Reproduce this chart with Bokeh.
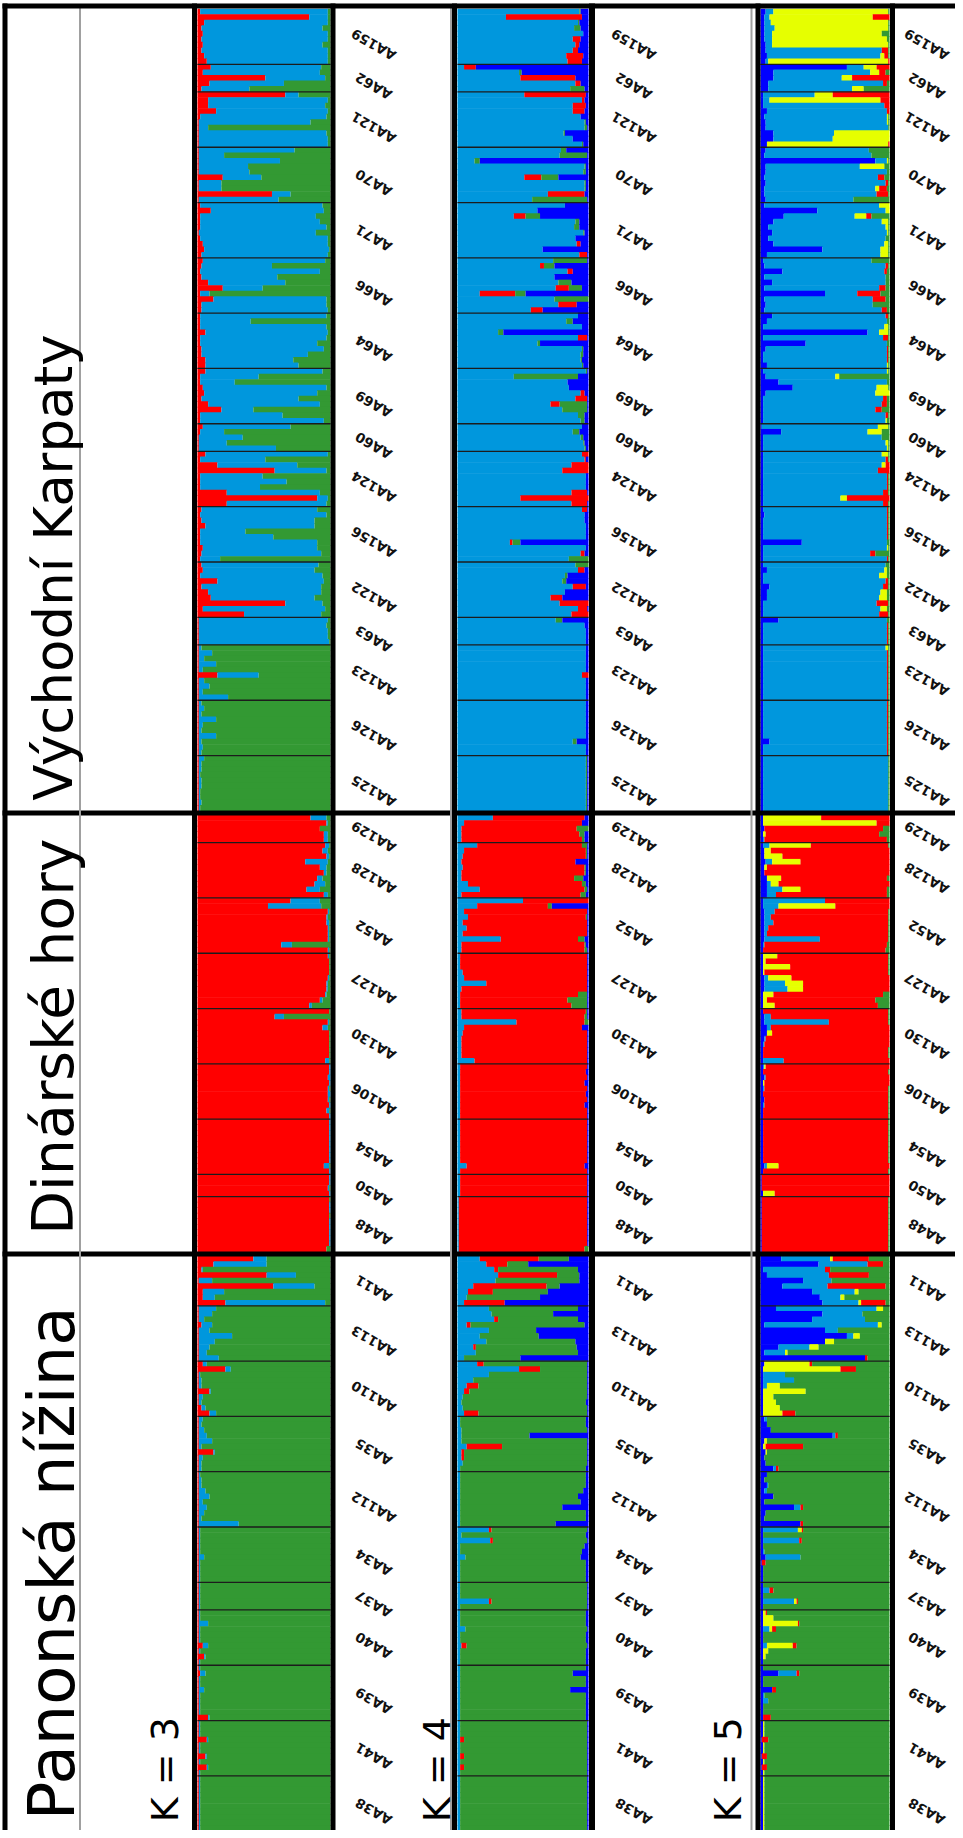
import math
from bokeh.plotting import figure
from bokeh.models import Range1d, ColumnDataSource
from bokeh.embed import file_html
from bokeh.resources import INLINE
from bokeh.core.properties import value

# ---------------- data ----------------
REGIONS = ["Východní Karpaty", "Dinárské hory", "Panonská nížina"]
K_LABELS = ["K = 3", "K = 4", "K = 5"]

POPS_KARPATY = ["AA159", "AA62", "AA121", "AA70", "AA71", "AA66", "AA64", "AA69",
                "AA60", "AA124", "AA156", "AA122", "AA63", "AA123", "AA126", "AA125"]
POPS_DINARIC = ["AA129", "AA128", "AA52", "AA127", "AA130", "AA106", "AA54", "AA50", "AA48"]
POPS_PANON = ["AA11", "AA113", "AA110", "AA35", "AA112", "AA34", "AA37", "AA40", "AA39", "AA41", "AA38"]

RED, LBLUE, GREEN, DBLUE, YELLOW = "#ff0000", "#0097dd", "#339933", "#0000ff", "#e6ff00"
COLORS_K3 = [RED, LBLUE, GREEN]
COLORS_K4 = [LBLUE, RED, GREEN, DBLUE]
COLORS_K5 = [DBLUE, LBLUE, YELLOW, RED, GREEN]

# Q-values in %, last cluster = remainder of the row
# K=3: (red, light blue) -> green
K3_KARPATY = [
    [(2,96),(84,14),(5,93),(3,91),(4,94),(3,95),(4,90),(3,95),(5,93),(7,91)],
    [(10,83),(4,88),(51,45),(9,56),(3,36)],
    [(66,10),(8,90),(8,88),(14,84),(2,95),(1,84),(1,7),(1,96),(1,97),(1,97)],
    [(1,72),(1,19),(1,61),(1,37),(1,38),(19,29),(1,17),(1,17),(56,14),(1,60)],
    [(2,92),(10,85),(2,87),(2,90),(2,95),(1,88),(2,96),(4,94),(5,94),(3,95)],
    [(4,92),(3,53),(2,90),(3,57),(8,58),(19,30),(2,7),(12,85),(3,94),(3,95)],
    [(2,95),(2,38),(2,95),(6,92),(2,95),(2,88),(3,92),(3,80),(6,66),(6,70)],
    [(6,88),(2,44),(2,26),(4,93),(5,85),(3,73),(8,84),(18,24),(2,62),(2,93)],
    [(4,66),(2,18),(1,33),(1,21),(1,58)],
    [(6,92),(2,49),(15,60),(58,39),(2,47),(2,65),(2,45),(22,70),(90,8),(22,75)],
    [(3,87),(2,95),(3,85),(6,82),(2,34),(2,55),(2,88),(4,86),(3,90),(2,15)],
    [(3,88),(4,84),(2,92),(15,80),(3,90),(8,85),(10,78),(66,28),(4,92),(35,58)],
    [(1,97),(1,96),(1,97),(1,97),(1,98)],
    [(1,2),(1,10),(1,4),(1,13),(1,3),(15,31),(1,4),(1,8),(1,3),(1,22)],
    [(1,2),(1,4),(1,2),(1,13),(1,3),(1,2),(1,13),(1,2),(1,3),(1,2)],
    [(1,4),(1,2),(1,2),(1,1),(1,2),(1,2),(1,1),(1,1),(1,2),(1,1)],
]
K3_DINARIC = [
    [(85,12),(97,1),(92,0),(95,3),(95,3)],
    [(96,3),(94,4),(97,2),(81,17),(92,5),(95,2),(90,4),(88,8),(82,10),(95,3)],
    [(70,22),(53,40),(98,1),(97,1),(97,2),(98,1),(98,1),(98,1),(63,8),(98,1)],
    [(98,1),(99,0),(99,0),(99,0),(98,1),(97,1),(97,1),(96,1),(92,2),(84,2)],
    [(99,0),(58,7),(98,1),(94,4),(99,0),(99,0),(99,0),(99,0),(99,0),(96,3)],
    [(99,1),(99,1),(98,2),(99,1),(98,1),(98,2),(98,1),(99,1),(97,2),(99,1)],
    [(99,1),(99,1),(99,1),(99,1),(99,1),(99,1),(99,1),(99,1),(95,4),(99,1)],
    [(99,1),(99,1),(98,1),(99,1)],
    [(99,0),(99,1),(99,1),(99,0),(99,1),(99,1),(99,1),(99,1),(99,1),(97,0)],
]
K3_PANON = [
    [(42,10),(12,40),(3,1),(52,22),(1,10),(57,31),(4,16),(4,9),(21,75)],
    [(1,13),(1,10),(1,4),(3,8),(1,8),(1,25),(1,12),(1,8),(1,6),(1,15)],
    [(4,3),(21,4),(1,1),(1,2),(1,2),(9,1),(1,3),(1,2),(3,3),(9,5)],
    [(1,3),(1,2),(1,4),(1,6),(1,10),(1,2),(12,1),(1,3),(1,2),(1,2)],
    [(1,1),(1,2),(1,2),(1,5),(1,8),(1,3),(1,6),(1,4),(1,2),(1,30)],
    [(1,1),(1,1),(1,1),(1,1),(1,1),(1,4),(1,1),(1,1),(1,1),(1,1)],
    [(1,1),(1,1),(1,1),(1,1),(1,1)],
    [(1,1),(1,1),(1,7),(1,1),(1,1),(1,1),(4,4),(1,1),(5,1),(1,1)],
    [(1,1),(2,4),(1,1),(1,1),(1,4),(1,1),(1,1),(1,1),(1,1),(8,1)],
    [(1,1),(1,1),(1,1),(7,1),(1,1),(1,1),(6,1),(1,1),(7,1),(1,1)],
    [(1,1),(1,1),(1,1),(1,1),(1,1),(1,1),(1,1),(1,1),(1,1),(1,1)],
]

# K=4: (light blue, red, green) -> dark blue
K4_KARPATY = [
    [(93,0,1),(37,58,0),(92,0,1),(89,0,5),(96,0,0),(88,6,0),(90,3,0),(88,4,0),(83,13,0),(84,11,0)],
    [(5,9,0),(47,0,2),(48,42,0),(90,4,0),(86,0,11)],
    [(51,47,0),(95,2,0),(88,10,0),(88,9,0),(94,0,0),(97,0,1),(97,0,2),(81,0,1),(88,0,0),(95,0,1)],
    [(79,0,4),(78,0,21),(13,0,4),(97,0,1),(96,0,2),(51,13,13),(97,0,1),(97,0,1),(69,28,0),(57,0,42)],
    [(82,0,0),(61,0,0),(43,9,11),(90,0,3),(89,0,4),(96,0,1),(90,0,0),(91,3,0),(65,0,0),(93,6,0)],
    [(73,0,26),(63,3,8),(84,4,0),(74,0,0),(77,0,10),(75,10,10),(17,27,8),(74,0,26),(77,14,0),(56,9,0)],
    [(92,0,0),(83,0,5),(95,0,0),(31,0,4),(92,7,0),(61,0,2),(95,0,1),(94,0,2),(94,0,1),(95,0,1)],
    [(98,0,1),(43,0,49),(84,0,0),(85,0,0),(94,3,0),(90,9,0),(71,7,21),(80,0,19),(92,0,5),(94,0,3)],
    [(95,0,0),(88,0,5),(94,0,2),(96,0,1),(97,0,1)],
    [(95,5,0),(97,1,0),(87,13,0),(80,20,0),(98,0,0),(98,0,0),(98,0,0),(87,12,0),(48,52,0),(87,12,0)],
    [(95,4,0),(97,0,0),(97,0,0),(98,0,0),(98,0,0),(98,0,0),(40,2,6),(98,0,0),(94,3,0),(85,0,15)],
    [(90,0,10),(92,5,0),(82,0,2),(80,0,3),(88,10,0),(82,0,0),(71,9,0),(78,22,0),(92,7,0),(87,13,0)],
    [(75,0,5),(97,0,0),(98,0,0),(98,0,0),(98,0,0)],
    [(98,0,0),(98,0,0),(98,0,0),(98,0,0),(98,0,0),(95,5,0),(98,0,0),(98,0,0),(98,0,0),(98,0,0)],
    [(98,0,0),(98,0,0),(98,0,0),(98,0,0),(98,0,0),(98,0,0),(98,0,0),(88,0,3),(98,0,0),(98,0,0)],
    [(98,0,1),(98,0,1),(98,0,1),(98,0,1),(98,0,1),(98,0,1),(98,0,1),(98,0,1),(98,0,1),(98,0,1)],
]
K4_DINARIC = [
    [(27,70,0),(5,90,0),(3,88,9),(3,90,4),(3,92,2)],
    [(15,80,4),(5,93,1),(4,94,1),(3,87,0),(4,93,1),(3,94,1),(3,86,7),(8,87,3),(17,80,2),(3,91,4)],
    [(50,50,0),(15,54,3),(5,94,0),(8,90,1),(4,95,0),(7,92,0),(4,95,0),(33,59,5),(3,94,1),(3,94,2)],
    [(2,97,0),(2,97,0),(2,97,0),(4,95,0),(5,94,0),(22,77,0),(3,96,0),(2,90,7),(2,82,15),(2,85,12)],
    [(3,95,1),(3,94,2),(45,52,3),(5,90,0),(4,95,0),(3,96,0),(3,96,0),(3,96,0),(3,96,0),(13,86,0)],
    [(2,97,0),(2,96,0),(2,97,0),(2,95,0),(2,97,0),(2,96,0),(2,97,0),(2,95,0),(2,97,0),(2,97,0)],
    [(2,97,0),(2,97,0),(2,97,0),(2,97,0),(2,97,0),(2,97,0),(2,97,0),(2,97,0),(7,90,0),(2,97,0)],
    [(2,97,0),(2,97,0),(2,97,0),(2,97,0)],
    [(1,98,0),(1,98,0),(1,98,0),(1,98,0),(1,98,0),(1,98,0),(1,98,0),(1,98,0),(1,98,0),(1,96,3)],
]
K4_PANON = [
    [(17,45,23),(22,16,16),(28,3,61),(31,45,17),(29,0,64),(12,56,10),(8,19,42),(7,0,56),(5,31,0)],
    [(24,0,68),(26,0,47),(28,3,61),(7,3,87),(24,0,36),(17,0,45),(22,0,68),(12,2,77),(14,0,78),(5,0,43)],
    [(15,5,79),(47,16,36),(24,0,75),(12,0,87),(7,9,83),(5,4,90),(4,0,95),(3,0,95),(4,0,95),(5,11,83)],
    [(2,0,96),(2,0,96),(3,0,96),(3,0,52),(3,0,96),(7,27,65),(3,2,94),(3,2,94),(4,0,95),(2,0,96)],
    [(2,0,96),(2,0,96),(2,0,96),(2,0,94),(2,0,90),(2,0,92),(2,0,78),(2,0,96),(2,0,96),(2,0,73)],
    [(24,2,73),(3,0,95),(25,2,72),(2,0,95),(2,0,93),(6,0,88),(2,0,96),(2,0,96),(2,0,96),(2,0,96)],
    [(2,0,97),(2,0,97),(2,0,97),(24,2,73),(2,0,97)],
    [(2,0,96),(2,0,96),(2,0,96),(6,0,93),(2,0,96),(2,0,96),(3,4,92),(2,0,96),(2,0,96),(2,0,96)],
    [(2,0,96),(2,0,86),(2,0,96),(2,0,96),(2,0,84),(2,0,96),(2,0,96),(2,0,96),(2,0,96),(2,0,96)],
    [(2,0,97),(2,0,97),(2,0,97),(2,3,94),(2,0,97),(2,0,97),(2,3,94),(2,0,97),(2,3,94),(2,0,97)],
    [(2,0,97),(2,0,97),(2,0,97),(2,0,97),(2,0,97),(2,0,97),(2,0,97),(2,0,97),(2,0,97),(2,0,97)],
]

# K=5: (dark blue, light blue, yellow, red) -> green
K5_KARPATY = [
    [(4,6,89,0),(3,4,80,13),(3,5,91,0),(3,8,88,0),(3,6,85,0),(3,6,89,0),(4,5,90,0),(4,90,0,5),(5,88,3,3),(4,2,93,1)],
    [(67,13,10,10),(10,75,7,5),(10,53,8,29),(6,89,0,3),(6,65,9,0)],
    [(2,40,14,44),(2,5,86,7),(2,94,0,4),(5,93,0,2),(3,95,1,0),(4,94,1,0),(4,95,0,0),(10,47,43,0),(10,46,44,0),(5,0,94,1)],
    [(4,80,0,0),(3,83,0,0),(89,9,1,0),(4,73,19,0),(4,94,0,0),(3,88,0,5),(4,93,0,2),(3,86,3,6),(3,87,0,9),(4,68,0,0)],
    [(3,89,8,0),(44,53,3,0),(18,55,9,4),(10,84,5,0),(6,91,2,0),(9,89,1,0),(6,91,0,0),(10,86,3,0),(48,45,6,0),(5,88,6,0)],
    [(2,84,0,0),(3,94,0,2),(17,79,0,2),(3,94,0,0),(9,88,0,0),(3,89,0,5),(50,25,0,18),(3,84,0,10),(4,83,0,0),(3,91,0,4)],
    [(9,88,0,2),(5,93,0,0),(2,94,3,0),(83,9,7,0),(2,93,0,4),(35,63,0,0),(4,94,0,1),(2,96,0,1),(2,96,0,1),(5,93,1,0)],
    [(2,96,1,0),(4,54,3,0),(14,84,0,0),(25,65,9,0),(4,85,11,0),(2,93,0,3),(2,92,0,4),(2,87,0,5),(2,95,0,2),(2,95,1,0)],
    [(1,90,8,0),(16,67,11,0),(2,92,0,0),(2,95,2,0),(2,96,1,0)],
    [(2,92,5,0),(2,95,0,2),(2,92,3,3),(2,89,0,9),(2,96,0,1),(2,96,0,1),(2,96,0,1),(2,93,0,4),(2,60,5,33),(2,93,0,4)],
    [(2,96,0,1),(3,95,0,1),(2,96,0,1),(2,96,0,1),(2,96,0,1),(2,96,0,1),(32,66,0,0),(2,96,1,0),(2,83,0,4),(2,96,0,1)],
    [(2,95,0,0),(5,91,2,0),(2,90,6,0),(2,95,0,2),(7,88,0,4),(5,88,5,0),(5,87,6,0),(2,88,0,9),(2,91,5,0),(2,90,0,7)],
    [(14,84,0,0),(2,96,0,1),(2,96,0,1),(2,96,0,1),(2,96,0,1)],
    [(2,95,2,0),(2,96,0,1),(2,96,0,1),(2,96,0,1),(2,96,0,1),(2,96,0,1),(2,96,0,1),(2,96,0,1),(2,96,0,1),(2,96,0,1)],
    [(2,96,0,1),(2,96,0,1),(2,96,0,1),(2,96,0,1),(2,96,0,1),(2,96,0,1),(2,96,0,1),(7,91,0,1),(2,96,0,1),(2,96,0,1)],
    [(2,97,0,0),(2,97,0,0),(2,97,0,0),(2,97,0,0),(2,97,0,0),(2,97,0,0),(2,97,0,0),(2,97,0,0),(2,97,0,0),(2,97,0,0)],
]
K5_DINARIC = [
    [(2,0,45,53),(2,0,88,10),(3,0,0,92),(2,0,2,88),(2,1,0,95)],
    [(2,5,32,60),(3,0,5,92),(3,0,14,83),(4,5,22,69),(3,0,2,95),(3,0,0,97),(5,0,11,82),(5,3,6,86),(5,12,14,67),(5,7,0,86)],
    [(2,48,0,50),(2,12,44,42),(3,8,0,88),(3,5,0,91),(3,7,0,89),(3,3,0,93),(3,2,0,94),(3,43,0,53),(2,1,0,95),(2,0,0,95)],
    [(2,0,11,86),(2,0,2,95),(2,0,21,76),(2,0,1,96),(3,3,18,76),(3,16,14,67),(3,18,12,67),(2,0,8,85),(2,0,3,84),(2,0,9,80)],
    [(2,0,0,97),(3,5,0,91),(3,50,0,46),(5,3,0,92),(5,0,4,91),(3,1,0,96),(2,1,0,97),(2,0,0,97),(2,0,0,97),(2,16,0,82)],
    [(2,1,1,96),(2,0,0,97),(3,1,0,96),(2,0,1,97),(2,1,0,96),(2,0,0,97),(3,0,0,96),(2,1,0,96),(2,0,0,97),(2,0,0,97)],
    [(2,0,0,97),(2,0,0,97),(2,0,0,97),(2,0,0,97),(2,0,0,97),(2,0,0,97),(2,0,0,97),(2,0,0,97),(3,2,9,86),(2,0,0,97)],
    [(1,0,0,99),(1,0,0,99),(1,0,0,99),(2,0,9,89)],
    [(1,0,0,98),(1,0,0,98),(1,0,0,98),(1,0,0,98),(1,0,0,98),(1,0,0,98),(1,0,0,98),(1,0,0,98),(1,0,0,98),(1,0,0,98)],
]
K5_PANON = [
    [(16,38,2,28),(45,38,0,12),(2,48,0,4),(5,48,0,31),(33,22,0,0),(17,35,0,45),(40,33,3,0),(46,16,3,0),(48,28,2,19)],
    [(12,78,5,0),(48,31,0,0),(40,41,0,0),(3,88,3,0),(50,10,0,0),(67,5,5,0),(50,0,7,0),(14,24,7,0),(3,16,2,0),(81,0,0,2)],
    [(3,0,35,2),(2,0,60,12),(2,17,0,0),(2,24,0,0),(2,3,10,0),(2,0,33,0),(2,0,8,0),(2,0,10,0),(2,0,13,0),(2,0,15,10)],
    [(3,2,0,0),(5,0,0,0),(8,0,0,0),(56,2,0,2),(3,0,2,0),(2,0,2,29),(4,0,1,0),(3,0,0,0),(4,0,0,0),(10,2,0,2)],
    [(5,0,0,0),(3,0,0,0),(5,1,0,0),(3,2,0,0),(10,0,0,0),(3,0,0,0),(26,5,0,2),(4,0,0,0),(3,0,0,0),(31,0,0,2)],
    [(2,27,3,1),(2,0,0,0),(2,28,0,2),(2,0,0,0),(2,1,0,0),(4,27,0,0),(1,0,0,3),(2,0,0,0),(2,0,0,0),(2,0,0,0)],
    [(2,0,0,0),(2,5,0,3),(2,0,0,0),(2,24,2,1),(2,0,0,0)],
    [(2,0,2,1),(2,0,8,0),(2,0,27,1),(2,5,2,3),(2,0,0,0),(2,0,0,0),(2,3,20,3),(2,0,4,0),(2,0,2,0),(2,0,0,0)],
    [(2,0,0,0),(14,14,0,2),(2,0,0,0),(2,0,0,0),(9,0,0,3),(2,1,0,0),(2,4,0,0),(2,0,0,0),(2,0,0,0),(2,0,0,6)],
    [(2,0,1,0),(2,0,1,0),(2,0,1,0),(1,0,0,5),(2,0,1,0),(2,0,1,0),(1,0,0,4),(2,0,1,0),(1,0,0,4),(2,0,1,0)],
    [(2,0,1,0),(2,0,1,0),(2,0,1,0),(2,0,1,0),(2,0,1,0),(2,0,1,0),(2,0,1,0),(2,0,1,0),(2,0,1,0),(2,0,1,0)],
]

# ---------------- layout (pixels of the page) ----------------
W, H = 955, 1830
PX0, PX1, PY0, PY1 = 8, 963, 8, 1838
Y0, ROW_H, GAP = 16.5, 5.53, 0.75
PANELS = {"k3": (205, 338), "k4": (465, 596), "k5": (768, 897)}
LABEL_X = [381, 641, 934]
K_LABEL_X = [172, 444, 735]
TITLE_X = [61, 60, 59]
TITLE_SIZE = ["53px", "57px", "64px"]
TITLE_YOFF = [-10, -17, -11]
BLACK_V = [(12.5, 5), (202, 5), (340.5, 5), (462, 5), (599.5, 6), (765.5, 5), (900, 5)]
GRAY_V = [87.5, 458.5, 759]
FONT = "DejaVu Sans"

REGION_POPS = [POPS_KARPATY, POPS_DINARIC, POPS_PANON]
K_SETS = [
    ("k3", [K3_KARPATY, K3_DINARIC, K3_PANON], COLORS_K3),
    ("k4", [K4_KARPATY, K4_DINARIC, K4_PANON], COLORS_K4),
    ("k5", [K5_KARPATY, K5_DINARIC, K5_PANON], COLORS_K5),
]
K3_REG = [K3_KARPATY, K3_DINARIC, K3_PANON]

# row positions of populations
pop_start, pop_n, reg_start, reg_end = [], [], [], []
cur = 0.0
for ri, pops in enumerate(REGION_POPS):
    reg_start.append(cur)
    starts, ns = [], []
    for pi in range(len(pops)):
        n = len(K3_REG[ri][pi])
        starts.append(cur)
        ns.append(n)
        cur += n
    pop_start.append(starts)
    pop_n.append(ns)
    reg_end.append(cur)
    if ri < 2:
        cur += GAP

p = figure(width=W, height=H, x_range=Range1d(PX0, PX1), y_range=Range1d(PY1, PY0),
           x_axis_type=None, y_axis_type=None, min_border=0, toolbar_location=None,
           output_backend="svg", outline_line_color=None,
           background_fill_color="white", border_fill_color="white")
p.extra_y_ranges = {"ind": Range1d(start=(PY1 - Y0) / ROW_H, end=(PY0 - Y0) / ROW_H)}
p.extra_x_ranges = {k: Range1d(start=(PX0 - L) / (R - L), end=(PX1 - L) / (R - L))
                    for k, (L, R) in PANELS.items()}

for key, regions_data, colors in K_SETS:
    ys, lefts, rights, cols = [], [], [], []
    for ri in range(3):
        for pi, rows in enumerate(regions_data[ri]):
            if len(rows) != pop_n[ri][pi]:
                raise ValueError(f"{key} {REGION_POPS[ri][pi]}: {len(rows)} vs {pop_n[ri][pi]}")
            for i, row in enumerate(rows):
                comps = list(row) + [max(0, 100 - sum(row))]
                tot = float(sum(comps))
                acc = 0.0
                for c, v in zip(colors, comps):
                    if v <= 0:
                        continue
                    ys.append(pop_start[ri][pi] + i + 0.5)
                    lefts.append(acc / tot)
                    acc += v
                    rights.append(acc / tot)
                    cols.append(c)
    src = ColumnDataSource(dict(y=ys, left=lefts, right=rights, color=cols))
    p.hbar(y="y", left="left", right="right", height=1.12, fill_color="color",
           line_color=None, source=src, x_range_name=key, y_range_name="ind")
    # thin population borders
    bys = []
    for ri in range(3):
        for pi in range(1, len(pop_start[ri])):
            bys.append(pop_start[ri][pi])
    p.segment(x0=[0] * len(bys), x1=[1] * len(bys), y0=bys, y1=bys,
              line_color="#1c1c1c", line_width=1.3, x_range_name=key, y_range_name="ind")

# region separators
seps = [(reg_end[0] + reg_start[1]) / 2, (reg_end[1] + reg_start[2]) / 2]
p.segment(x0=[10] * 2, x1=[963] * 2, y0=seps, y1=seps, line_color="black",
          line_width=5, y_range_name="ind")

# vertical frame lines
p.segment(x0=GRAY_V, x1=GRAY_V, y0=[14] * len(GRAY_V), y1=[1838] * len(GRAY_V),
          line_color="#a0a0a0", line_width=2)
for x, w in BLACK_V:
    p.segment(x0=[x], x1=[x], y0=[11], y1=[1838], line_color="black", line_width=w)
p.segment(x0=[10], x1=[963], y0=[13.5], y1=[13.5], line_color="black", line_width=5)

# population labels
lx, ly, lt = [], [], []
for ri, pops in enumerate(REGION_POPS):
    for pi, name in enumerate(pops):
        yc = pop_start[ri][pi] + pop_n[ri][pi] / 2.0
        for x in LABEL_X:
            lx.append(x)
            ly.append(yc)
            lt.append(name)
p.text(x=lx, y=ly, text=lt, angle=math.radians(150), y_offset=8,
       text_align="center", text_baseline="middle", text_font=value(FONT),
       text_font_style="bold", text_font_size="13.5px", text_color="#111111",
       y_range_name="ind")

# region titles
tsrc = ColumnDataSource(dict(x=TITLE_X, y=reg_end, text=REGIONS,
                             size=TITLE_SIZE, yoff=TITLE_YOFF))
p.text(x="x", y="y", text="text", source=tsrc, angle=math.pi / 2, y_offset="yoff",
       text_align="left", text_baseline="alphabetic", text_font=value(FONT),
       text_font_size="size", text_color="black", y_range_name="ind")

# K labels
p.text(x=K_LABEL_X, y=[reg_end[2]] * 3, text=K_LABELS, angle=math.pi / 2, y_offset=-9,
       text_align="left", text_baseline="alphabetic", text_font=value(FONT),
       text_font_size="38px", text_color="black", y_range_name="ind")

open("out.html", "w").write(file_html(p, INLINE))
